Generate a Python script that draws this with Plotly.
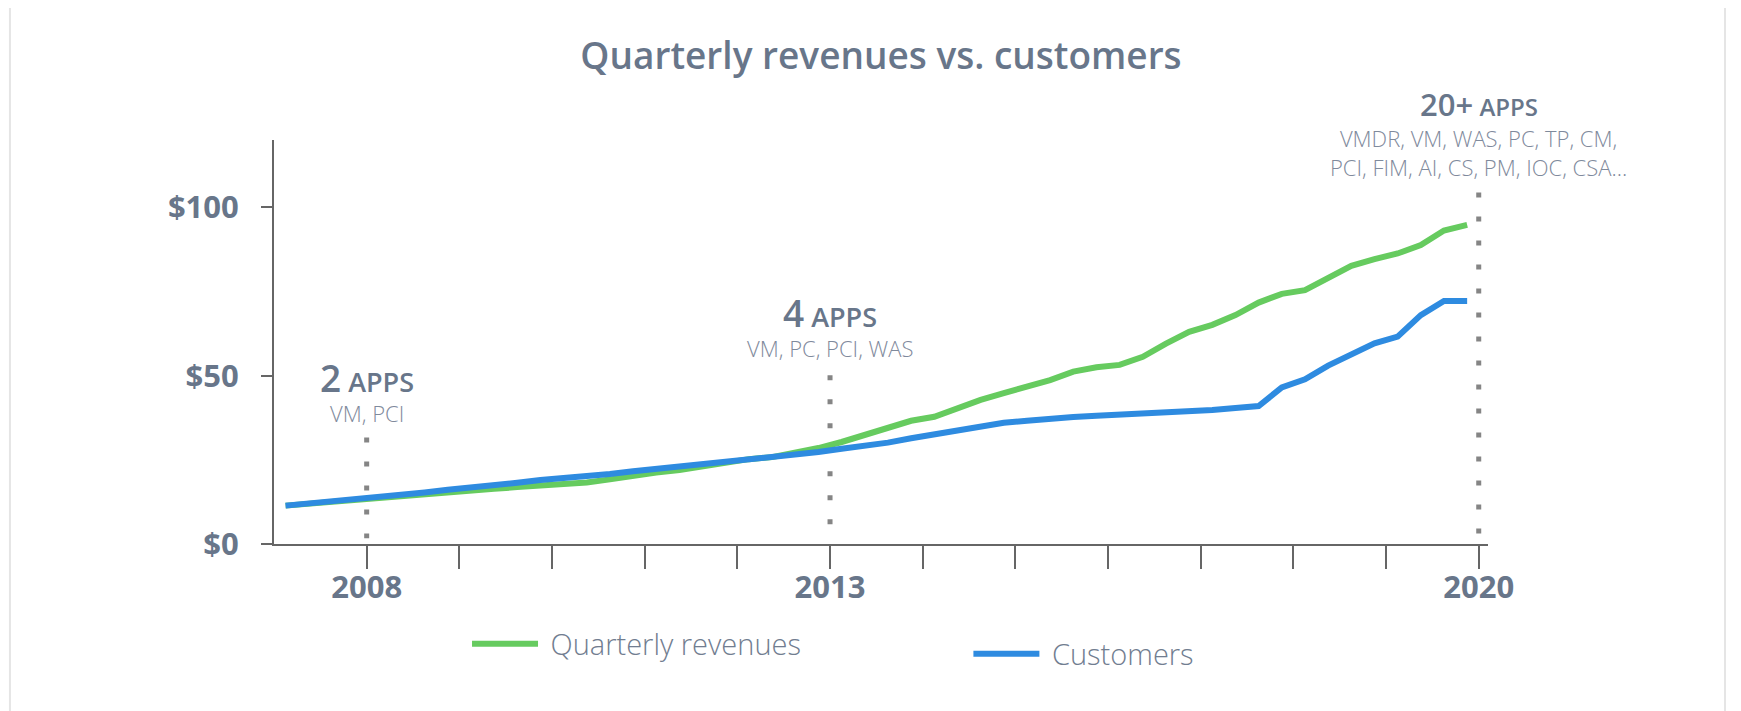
import plotly.graph_objects as go

# quarterly points, Q1 2007 .. Q4 2019
quarters = [
    "Q1 2007", "Q2 2007", "Q3 2007", "Q4 2007",
    "Q1 2008", "Q2 2008", "Q3 2008", "Q4 2008",
    "Q1 2009", "Q2 2009", "Q3 2009", "Q4 2009",
    "Q1 2010", "Q2 2010", "Q3 2010", "Q4 2010",
    "Q1 2011", "Q2 2011", "Q3 2011", "Q4 2011",
    "Q1 2012", "Q2 2012", "Q3 2012", "Q4 2012",
    "Q1 2013", "Q2 2013", "Q3 2013", "Q4 2013",
    "Q1 2014", "Q2 2014", "Q3 2014", "Q4 2014",
    "Q1 2015", "Q2 2015", "Q3 2015", "Q4 2015",
    "Q1 2016", "Q2 2016", "Q3 2016", "Q4 2016",
    "Q1 2017", "Q2 2017", "Q3 2017", "Q4 2017",
    "Q1 2018", "Q2 2018", "Q3 2018", "Q4 2018",
    "Q1 2019", "Q2 2019", "Q3 2019", "Q4 2019",
]

revenues = [
    11.4, 12.0, 12.6, 13.2, 13.7, 14.2, 14.8, 15.3, 15.9, 16.4, 16.9, 17.3, 17.8,
    18.3, 19.2, 20.4, 21.2, 22.0, 23.0, 24.3, 25.2, 25.8, 27.0, 28.5, 30.3, 32.3,
    34.4, 36.6, 37.8, 40.3, 42.8, 44.8, 46.7, 48.7, 51.2, 52.5, 53.2, 55.6, 59.5,
    63.0, 65.1, 68.0, 71.7, 74.3, 75.4, 79.2, 82.6, 84.6, 86.3, 88.8, 93.1, 94.8,
]

customers = [
    11.4, 12.0, 12.7, 13.3, 14.0, 14.7, 15.3, 16.1, 16.7, 17.5, 18.2, 19.0, 19.5,
    20.0, 20.8, 21.6, 22.3, 23.0, 23.7, 24.3, 24.9, 25.5, 26.3, 27.3, 28.3, 29.1,
    30.1, 31.4, 32.6, 33.9, 35.2, 36.0, 36.6, 37.3, 37.7, 38.1, 38.4, 38.8, 39.1,
    39.4, 39.8, 40.4, 41.0, 46.5, 48.9, 53.0, 56.4, 59.6, 61.6, 68.0, 72.2, 72.2,
]

years = list(range(2008, 2021))
labelled_years = [2008, 2013, 2020]

y_ticks = [0, 50, 100]
y_labels = ["$0", "$50", "$100"]

app_years = [2008, 2013, 2020]
app_counts = ["2", "4", "20+"]
app_lists = [
    "VM, PCI",
    "VM, PC, PCI, WAS",
    "VMDR, VM, WAS, PC, TP, CM,<br>PCI, FIM, AI, CS, PM, IOC, CSA...",
]

GREEN = "#66cb5f"
BLUE = "#2e8be0"
SLATE = "#68768a"
LIGHT = "#7f8a9c"
FONT = "Open Sans"

# year ticks sit on the boundary between Q4 and the next Q1
tick_pos = [quarters.index(f"Q4 {y - 1}") + 0.5 for y in years]
tick_text = [str(y) if y in labelled_years else "" for y in years]

fig = go.Figure()

# leading no-break space widens the gap between swatch and label
fig.add_trace(go.Scatter(
    x=quarters, y=revenues, mode="lines", name="\u00a0Quarterly revenues",
    line=dict(color=GREEN, width=6), legend="legend",
))
fig.add_trace(go.Scatter(
    x=quarters, y=customers, mode="lines", name="\u00a0Customers",
    line=dict(color=BLUE, width=6), legend="legend2",
))

# dotted markers for the app milestones
dot_spans = {2008: (1.7, 31.6), 2013: (5.8, 50.1), 2020: (3.1, 104.4)}
for yr in app_years:
    xp = quarters.index(f"Q4 {yr - 1}") + 0.5
    lo, hi = dot_spans[yr]
    fig.add_shape(type="line", xref="x", yref="y", x0=xp, x1=xp, y0=hi, y1=lo,
                  line=dict(color="#858585", width=5, dash="5px,19px"), layer="below")

head_y = {2008: 0.413, 2013: 0.572, 2020: 1.089}
sub_y = {2008: 0.324, 2013: 0.485, 2020: 0.970}
big = {2008: 37, 2013: 37, 2020: 31}
small = {2008: 27, 2013: 27, 2020: 24}
for yr, cnt, apps in zip(app_years, app_counts, app_lists):
    xp = quarters.index(f"Q4 {yr - 1}") + 0.5
    fig.add_annotation(
        x=xp, y=head_y[yr], xref="x", yref="paper", showarrow=False,
        text=f"<span style='font-size:{big[yr]}px'>{cnt}</span> APPS",
        font=dict(family=FONT, size=small[yr], color=SLATE, weight=600),
        xanchor="center", yanchor="middle",
    )
    fig.add_annotation(
        x=xp, y=sub_y[yr], xref="x", yref="paper", showarrow=False, text=apps,
        font=dict(family=FONT, size=22, color=LIGHT, weight=300),
        xanchor="center", yanchor="middle",
    )

# light card border
fig.add_shape(type="rect", xref="paper", yref="paper",
              x0=-0.2175, x1=1.1952, y0=-0.45, y1=1.344,
              line=dict(color="#e5e5e5", width=2))

fig.update_layout(
    width=1741, height=711,
    margin=dict(l=266, r=261, t=132, b=175),
    paper_bgcolor="white", plot_bgcolor="white",
    title=dict(text="Quarterly revenues vs. customers", x=0.5, xref="paper",
               y=0.933, yref="container", yanchor="middle",
               font=dict(family=FONT, size=37, color=SLATE, weight=600)),
    xaxis=dict(
        type="category", range=[-0.5, 51.9],
        tickmode="array", tickvals=tick_pos, ticktext=tick_text,
        ticks="outside", ticklen=23, tickwidth=2, tickcolor="#666",
        showline=True, linecolor="#666", linewidth=2,
        showgrid=False, zeroline=False,
        tickfont=dict(family=FONT, size=31, color=SLATE, weight=700),
        ticklabelstandoff=-8,
    ),
    yaxis=dict(
        range=[0, 120], tickvals=y_ticks, ticktext=y_labels,
        ticks="outside", ticklen=11, tickwidth=2, tickcolor="#666",
        showline=True, linecolor="#666", linewidth=2,
        showgrid=False, zeroline=False,
        tickfont=dict(family=FONT, size=31, color=SLATE, weight=700),
        ticklabelstandoff=16,
    ),
    legend=dict(x=0.159, y=-0.2475, xanchor="left", yanchor="middle",
                font=dict(family=FONT, size=29, color="#717d90", weight=300),
                itemwidth=66, bgcolor="rgba(0,0,0,0)"),
    legend2=dict(x=0.572, y=-0.272, xanchor="left", yanchor="middle",
                 font=dict(family=FONT, size=29, color="#717d90", weight=300),
                 itemwidth=66, bgcolor="rgba(0,0,0,0)"),
    showlegend=True,
)

fig.write_html("out.html")
